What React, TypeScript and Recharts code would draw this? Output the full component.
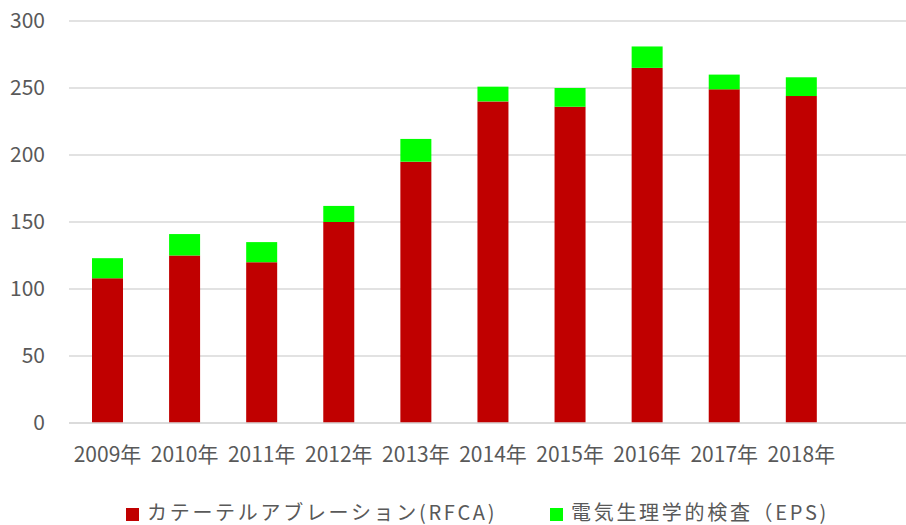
import React from 'react';
import { Bar, BarChart, CartesianGrid, XAxis, YAxis } from 'recharts';

const years = ['2009年', '2010年', '2011年', '2012年', '2013年', '2014年', '2015年', '2016年', '2017年', '2018年', ''];
const rfca = [108, 125, 120, 150, 195, 240, 236, 265, 249, 244, null];
const eps = [15, 16, 15, 12, 17, 11, 14, 16, 11, 14, null];
const yTicks = [0, 50, 100, 150, 200, 250, 300];
const seriesNames = ['カテーテルアブレーション(RFCA)', '電気生理学的検査（EPS)'];

const RED = '#c00000';
const GREEN = '#00ff00';
const FONT = '"Noto Sans CJK JP", "Open Sans", sans-serif';

const data = years.map((y, i) => ({ year: y, rfca: rfca[i], eps: eps[i] }));

// plot area runs past the right edge in the original, so the chart is wider and clipped
export default function App() {
  return (
    <div style={{ position: 'relative', width: 906, height: 525, overflow: 'hidden', background: '#fff', fontFamily: FONT }}>
      <style>{`body{margin:0}`}</style>
      <BarChart
        width={917}
        height={525}
        data={data}
        barSize={31}
        margin={{ top: 21, right: 0, left: 0, bottom: 0 }}
      >
        <CartesianGrid horizontal vertical={false} stroke="#d9d9d9" strokeWidth={1.5} />
        <XAxis
          dataKey="year"
          height={102}
          tickLine={false}
          tickSize={0}
          tickMargin={24}
          axisLine={{ stroke: '#d9d9d9', strokeWidth: 1.5 }}
          interval={0}
          tick={{ fill: '#595959', fontSize: 21, fontFamily: FONT }}
        />
        <YAxis
          width={69}
          domain={[0, 300]}
          ticks={yTicks}
          axisLine={false}
          tickLine={false}
          tickSize={0}
          tickMargin={24}
          tick={{ fill: '#595959', fontSize: 21, fontFamily: FONT }}
        />
        <Bar dataKey="rfca" stackId="a" fill={RED} isAnimationActive={false} />
        <Bar dataKey="eps" stackId="a" fill={GREEN} isAnimationActive={false} />
      </BarChart>
      <div style={{ position: 'absolute', top: 499, left: 0, width: 906, height: 26, color: '#595959', fontSize: 20, lineHeight: '26px' }}>
        <div style={{ position: 'absolute', left: 126, top: 9, width: 13, height: 13, background: RED }} />
        <div style={{ position: 'absolute', left: 147, top: 0, whiteSpace: 'nowrap', letterSpacing: 2.7 }}>{seriesNames[0]}</div>
        <div style={{ position: 'absolute', left: 550, top: 9, width: 13, height: 13, background: GREEN }} />
        <div style={{ position: 'absolute', left: 571, top: 0, whiteSpace: 'nowrap', letterSpacing: 2.7 }}>{seriesNames[1]}</div>
      </div>
    </div>
  );
}
